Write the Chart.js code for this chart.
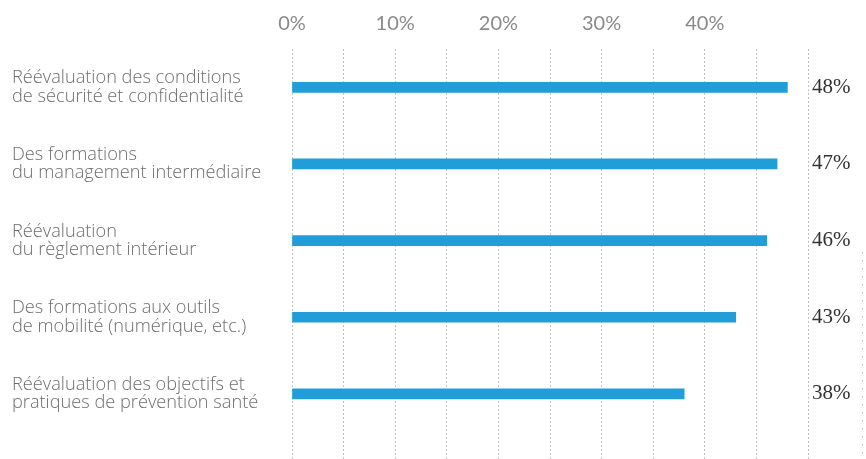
<!DOCTYPE html>
<html>
<head>
<meta charset="utf-8">
<script src="https://cdn.jsdelivr.net/npm/chart.js@4.4.1/dist/chart.umd.min.js"></script>
<style>
  body { margin: 0; background: #fff; }
</style>
</head>
<body>
<canvas id="myChart" width="866" height="459"></canvas>
<script>
// data
const categories = [
    ['Réévaluation des conditions', 'de sécurité et confidentialité'],
    ['Des formations', 'du management intermédiaire'],
    ['Réévaluation', 'du règlement intérieur'],
    ['Des formations aux outils', 'de mobilité (numérique, etc.)'],
    ['Réévaluation des objectifs et', 'pratiques de prévention santé']
];
const values = [48, 47, 46, 43, 38];
const tickLabels = ['0%', '10%', '20%', '30%', '40%'];

// value labels on the right, in one column after the last grid line
const valueLabels = {
    id: 'valueLabels',
    afterDatasetsDraw(chart) {
        const ctx = chart.ctx;
        const meta = chart.getDatasetMeta(0);
        const x = chart.scales.x.getPixelForValue(50) + 4;
        ctx.save();
        ctx.font = '21px "Liberation Serif", serif';
        ctx.fillStyle = '#333333';
        ctx.textAlign = 'left';
        ctx.textBaseline = 'middle';
        meta.data.forEach(function(bar, i) {
            ctx.fillText(values[i] + '%', x, bar.y);
        });
        // faint dotted edge at the right border
        ctx.strokeStyle = '#c8c8c8';
        ctx.lineWidth = 1;
        ctx.setLineDash([2, 6]);
        ctx.beginPath();
        ctx.moveTo(862.5, 252);
        ctx.lineTo(862.5, 459);
        ctx.stroke();
        ctx.restore();
    }
};

// setup
const data = {
    datasets: [{
        data: values.map(function(v, i) { return { x: v, y: i }; }),
        backgroundColor: '#219dd9',
        borderWidth: 0,
        barThickness: 10
    }]
};

// config
const config = {
    type: 'bar',
    data,
    options: {
        indexAxis: 'y',
        responsive: false,
        animation: false,
        layout: { padding: { left: 12, right: 58, top: 0, bottom: 0 } },
        plugins: {
            legend: { display: false },
            tooltip: { enabled: false }
        },
        scales: {
            x: {
                type: 'linear',
                position: 'top',
                min: 0,
                max: 50,
                afterFit(scale) {
                    scale.height = 49;
                    scale.paddingLeft = 0;
                    scale.paddingRight = 0;
                },
                border: { display: false, dash: [2, 2] },
                grid: {
                    color: '#c4c4c4',
                    lineWidth: 1,
                    drawTicks: false
                },
                ticks: {
                    stepSize: 5,
                    padding: 13,
                    color: '#8a8a8a',
                    font: { family: 'Lato', size: 20 },
                    callback: function(v) {
                        return v % 10 === 0 && v / 10 < tickLabels.length ? tickLabels[v / 10] : '';
                    }
                }
            },
            y: {
                type: 'linear',
                reverse: true,
                offset: false,
                min: -0.5,
                max: 4.85,
                afterFit(scale) {
                    scale.width = 280;
                    scale.paddingTop = 0;
                    scale.paddingBottom = 0;
                },
                border: { display: false },
                grid: { display: false, offset: false },
                ticks: {
                    stepSize: 1,
                    crossAlign: 'far',
                    color: '#6e6e6e',
                    font: { family: 'Open Sans', size: 18.2, weight: 300, lineHeight: 1.0 },
                    callback: function(v) {
                        return Number.isInteger(v) && categories[v] ? categories[v] : '';
                    }
                }
            }
        }
    },
    plugins: [valueLabels]
};

// render init block
const myChart = new Chart(
    document.getElementById('myChart'),
    config
);
</script>
</body>
</html>
